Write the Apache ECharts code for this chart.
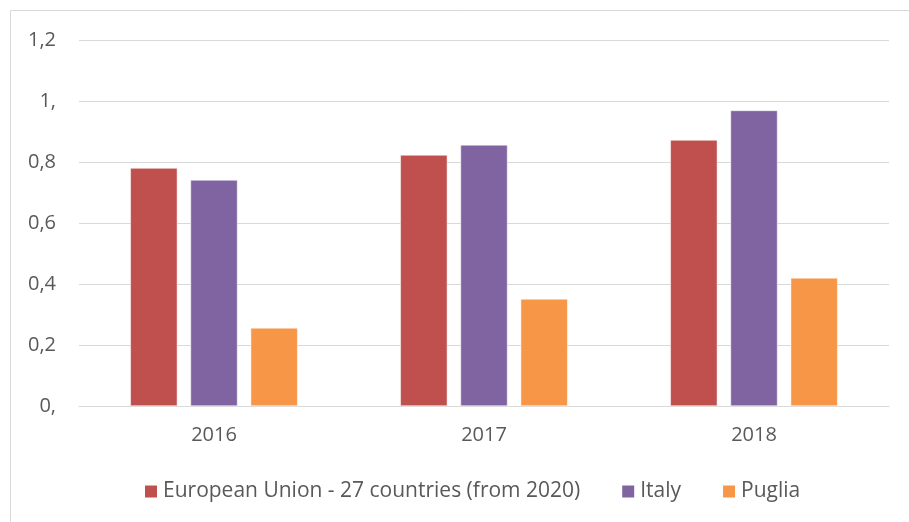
<!DOCTYPE html>
<html>
<head>
<meta charset="utf-8">
<script src="https://cdn.jsdelivr.net/npm/echarts@6/dist/echarts.min.js"></script>
<style>
  html, body { margin: 0; padding: 0; background: #fff; }
  #chart { width: 909px; height: 522px; }
</style>
</head>
<body>
<div id="chart"></div>
<script>
const years = ['2016', '2017', '2018']
const seriesNames = ['European Union - 27 countries (from 2020)', 'Italy', 'Puglia']
const euValues = [0.78, 0.823, 0.872]
const italyValues = [0.741, 0.856, 0.969]
const pugliaValues = [0.256, 0.351, 0.42]
const yTickLabels = { 0: '0,', 0.2: '0,2', 0.4: '0,4', 0.6: '0,6', 0.8: '0,8', 1: '1,', 1.2: '1,2' }
const colors = ['#C0504D', '#8064A2', '#F79646']

const font = 'Open Sans, Noto Sans, sans-serif'
const chart = echarts.init(document.getElementById('chart'))

chart.setOption({
  animation: false,
  textStyle: { fontFamily: font },
  graphic: [{
    type: 'rect',
    shape: { x: 10.5, y: 10.5, width: 920, height: 530 },
    style: { fill: 'none', stroke: '#d9d9d9', lineWidth: 1 },
  }],
  grid: { left: 79, right: 20, top: 40, bottom: 116 },
  legend: {
    top: 476,
    left: 138,
    itemWidth: 14,
    itemHeight: 14,
    itemGap: 40,
    icon: 'rect',
    textStyle: { color: '#595959', fontSize: 21, fontFamily: font },
    data: seriesNames,
  },
  xAxis: {
    type: 'category',
    data: years,
    axisLine: { lineStyle: { color: '#d9d9d9' } },
    axisTick: { show: false },
    axisLabel: { color: '#595959', fontSize: 20, margin: 19 },
  },
  yAxis: {
    type: 'value',
    min: 0,
    max: 1.2,
    interval: 0.2,
    axisLine: { show: false },
    axisTick: { show: false },
    splitLine: { lineStyle: { color: '#d9d9d9' } },
    axisLabel: {
      color: '#595959',
      fontSize: 20,
      margin: 23,
      formatter: v => yTickLabels[Math.round(v * 10) / 10] ?? String(v),
    },
  },
  series: [euValues, italyValues, pugliaValues].map((d, i) => ({
    name: seriesNames[i],
    type: 'bar',
    data: d,
    barWidth: 47,
    barGap: '28%',
    itemStyle: { color: colors[i], borderColor: '#fff', borderWidth: 0.5 },
  })),
})
</script>
</body>
</html>
